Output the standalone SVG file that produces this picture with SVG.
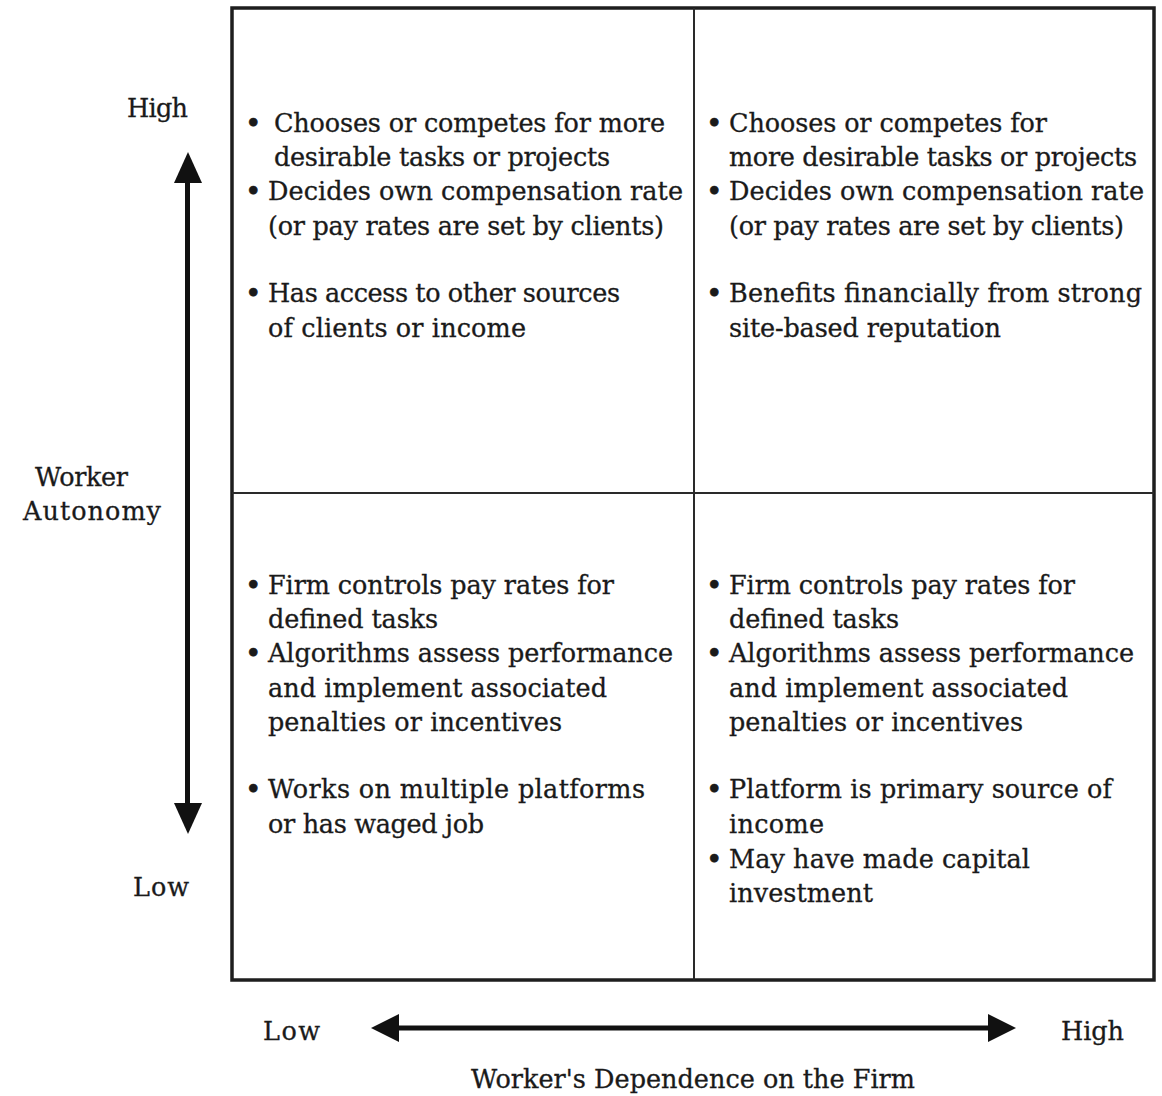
<svg xmlns="http://www.w3.org/2000/svg" width="1162" height="1096" viewBox="0 0 1162 1096">
<style>
text{font-family:"DejaVu Serif","Liberation Serif",serif;font-size:25.5px;fill:#1a1a1a;stroke:#1a1a1a;stroke-width:0.3}
.b{font-size:28px;stroke-width:0.6}
.frame{fill:none;stroke:#1e1e1e;stroke-width:3.5}
.div{fill:none;stroke:#2a2a2a;stroke-width:2}
.axis{fill:none;stroke:#111;stroke-width:5}
.head{fill:#111}
</style>
<rect width="1162" height="1096" fill="#fff"/>
<g id="matrix">
<rect class="frame" x="232" y="8" width="922" height="972"/>
<line class="div" x1="694" y1="8" x2="694" y2="980"/>
<line class="div" x1="232" y1="493" x2="1154" y2="493"/>
</g>
<g id="connectors">
<line class="axis" x1="187.5" y1="178" x2="187.5" y2="808"/>
<polygon class="head" points="188,152 174,183 202,183"/>
<polygon class="head" points="188,834 174,803 202,803"/>
<line class="axis" x1="396" y1="1028" x2="990" y2="1028"/>
<polygon class="head" points="371,1028 399,1014 399,1042"/>
<polygon class="head" points="1016,1028 988,1014 988,1042"/>
</g>
<g id="axis-labels">
<text x="127" y="117" textLength="61">High</text>
<text x="133" y="896" textLength="56">Low</text>
<text x="35" y="486" textLength="93">Worker</text>
<text x="23" y="520" textLength="138">Autonomy</text>
<text x="263" y="1040" textLength="57">Low</text>
<text x="1061" y="1040" textLength="63">High</text>
<text x="471" y="1088" textLength="444">Worker's Dependence on the Firm</text>
</g>
<g id="q-top-left">
<text class="b" x="245" y="133">•</text><text x="274" y="132" textLength="391">Chooses or competes for more</text>
<text x="274" y="166" textLength="336">desirable tasks or projects</text>
<text class="b" x="245" y="201">•</text><text x="268" y="200" textLength="415">Decides own compensation rate</text>
<text x="268" y="235" textLength="396">(or pay rates are set by clients)</text>
<text class="b" x="245" y="303">•</text><text x="268" y="302" textLength="352">Has access to other sources</text>
<text x="268" y="337" textLength="258">of clients or income</text>
</g>
<g id="q-top-right">
<text class="b" x="706" y="133">•</text><text x="729" y="132" textLength="318">Chooses or competes for</text>
<text x="729" y="166" textLength="408">more desirable tasks or projects</text>
<text class="b" x="706" y="201">•</text><text x="729" y="200" textLength="415">Decides own compensation rate</text>
<text x="729" y="235" textLength="395">(or pay rates are set by clients)</text>
<text class="b" x="706" y="303">•</text><text x="729" y="302" textLength="413">Benefits financially from strong</text>
<text x="729" y="337" textLength="272">site-based reputation</text>
</g>
<g id="q-bottom-left">
<text class="b" x="245" y="595">•</text><text x="268" y="594" textLength="346">Firm controls pay rates for</text>
<text x="268" y="628" textLength="170">defined tasks</text>
<text class="b" x="245" y="663">•</text><text x="268" y="662" textLength="405">Algorithms assess performance</text>
<text x="268" y="697" textLength="339">and implement associated</text>
<text x="268" y="731" textLength="294">penalties or incentives</text>
<text class="b" x="245" y="799">•</text><text x="268" y="798" textLength="377">Works on multiple platforms</text>
<text x="268" y="833" textLength="216">or has waged job</text>
</g>
<g id="q-bottom-right">
<text class="b" x="706" y="595">•</text><text x="729" y="594" textLength="346">Firm controls pay rates for</text>
<text x="729" y="628" textLength="170">defined tasks</text>
<text class="b" x="706" y="663">•</text><text x="729" y="662" textLength="405">Algorithms assess performance</text>
<text x="729" y="697" textLength="339">and implement associated</text>
<text x="729" y="731" textLength="294">penalties or incentives</text>
<text class="b" x="706" y="799">•</text><text x="729" y="798" textLength="383">Platform is primary source of</text>
<text x="729" y="833" textLength="95">income</text>
<text class="b" x="706" y="869">•</text><text x="729" y="868" textLength="301">May have made capital</text>
<text x="729" y="902" textLength="144">investment</text>
</g>
</svg>
